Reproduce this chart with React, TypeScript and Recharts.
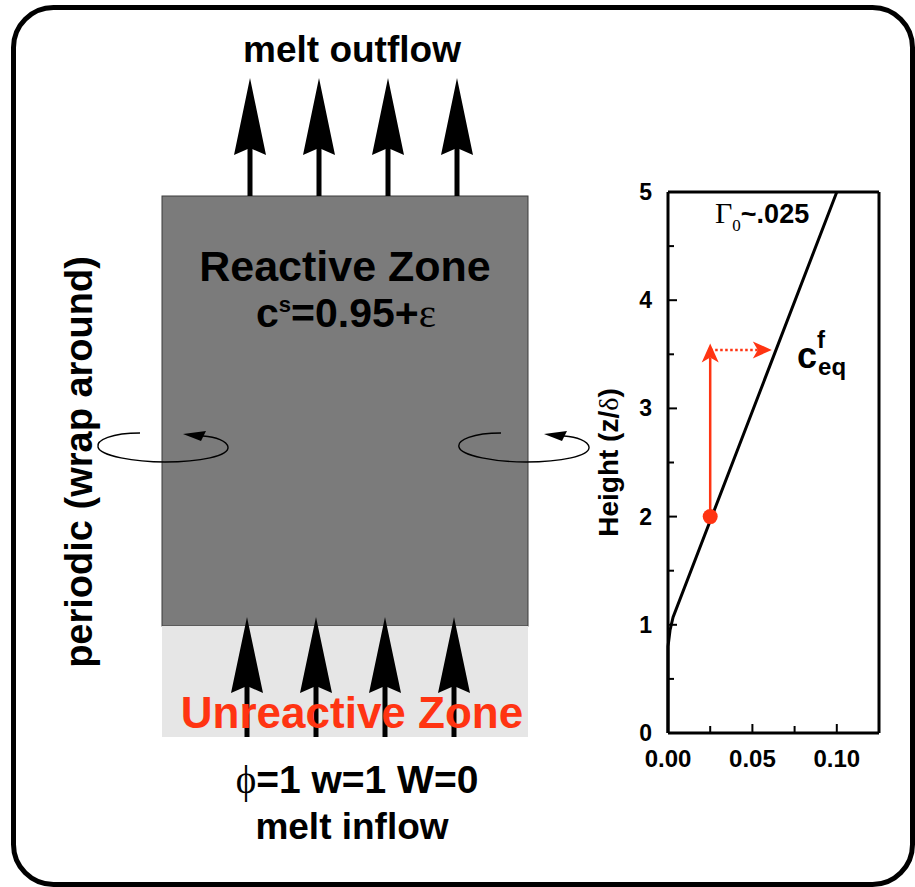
import React from 'react';
import { ComposedChart, Line, Scatter, XAxis, YAxis, ReferenceLine } from 'recharts';

// equilibrium fluid concentration vs height
const concTicks = [0, 0.025, 0.05, 0.075, 0.1];
const concLabels = ['0.00', '', '0.05', '', '0.10'];
const heightTicks = [0, 0.5, 1, 1.5, 2, 2.5, 3, 3.5, 4, 4.5, 5];
const heightLabels = ['0', '', '1', '', '2', '', '3', '', '4', '', '5'];

const ceqProfile = [
  { c: 0, z: 0 },
  { c: 0, z: 0.8 },
  { c: 0.0012, z: 0.95 },
  { c: 0.003, z: 1.07 },
  { c: 0.1, z: 5 },
];
const startPoint = [{ c: 0.025, z: 2 }];
const riseArrow = [{ c: 0.025, z: 2 }, { c: 0.025, z: 3.6 }];
const reactArrow = [{ c: 0.025, z: 3.54 }, { c: 0.0615, z: 3.54 }];

const outflowArrows = [250, 319, 388, 457];
const inflowArrows = [247, 316, 385, 454];

const FONT = "'Liberation Sans', Arial, Helvetica, sans-serif";
const SERIF = "'Liberation Serif', 'Times New Roman', serif";
const RED = '#ff3412';

const BottomTick = (props: any) => {
  const { x, y, index } = props;
  const label = concLabels[index];
  return (
    <g>
      <line x1={x} y1={y} x2={x} y2={y - (label ? 9 : 7)} stroke="#000" strokeWidth={2} />
      {label ? (
        <text x={x} y={y + 34} textAnchor="middle" fontSize={24} fontWeight="bold" fontFamily={FONT} fill="#000">
          {label}
        </text>
      ) : null}
    </g>
  );
};

const TopTick = (props: any) => {
  const { x, y, index } = props;
  return <line x1={x} y1={y} x2={x} y2={y + (concLabels[index] ? 9 : 7)} stroke="#000" strokeWidth={2} />;
};

const LeftTick = (props: any) => {
  const { x, y, index } = props;
  const label = heightLabels[index];
  return (
    <g>
      <line x1={x} y1={y} x2={x + (label ? 9 : 6)} y2={y} stroke="#000" strokeWidth={2} />
      {label ? (
        <text x={x - 16} y={y + 8} textAnchor="end" fontSize={23} fontWeight="bold" fontFamily={FONT} fill="#000">
          {label}
        </text>
      ) : null}
    </g>
  );
};

const RightTick = (props: any) => {
  const { x, y, index } = props;
  return <line x1={x} y1={y} x2={x - (heightLabels[index] ? 9 : 6)} y2={y} stroke="#000" strokeWidth={2} />;
};

const arrowShape = (dashed: boolean) => (props: any) => {
  const { x1, y1, x2, y2 } = props;
  const dx = x2 - x1;
  const dy = y2 - y1;
  const len = Math.hypot(dx, dy) || 1;
  const ux = dx / len;
  const uy = dy / len;
  const nx = -uy;
  const ny = ux;
  const headLen = 19;
  const half = 8.5;
  const notch = 5;
  const bx = x2 - ux * headLen;
  const by = y2 - uy * headLen;
  const mx = x2 - ux * (headLen - notch);
  const my = y2 - uy * (headLen - notch);
  const pts = `${x2},${y2} ${bx + nx * half},${by + ny * half} ${mx},${my} ${bx - nx * half},${by - ny * half}`;
  return (
    <g>
      <line x1={x1} y1={y1} x2={mx} y2={my} stroke={RED} strokeWidth={2.5} strokeDasharray={dashed ? '2.5 2.5' : undefined} />
      <polygon points={pts} fill={RED} />
    </g>
  );
};

const UpArrow = ({ x, tip, base, end }: { x: number; tip: number; base: number; end: number }) => (
  <g>
    <rect x={x - 2.5} y={base - 8} width={5} height={end - base + 8} fill="#000" />
    <polygon points={`${x},${tip} ${x + 16},${base} ${x},${base - 7} ${x - 16},${base}`} fill="#000" />
  </g>
);

const WrapArrow = ({ dx }: { dx: number }) => (
  <g transform={`translate(${dx},0)`}>
    <path
      d="M140,433 C112,433 96,440 98,447 C100,456 135,462 165,462 C200,462 229,456 228,447 C227,441 216,437 203,436"
      fill="none"
      stroke="#000"
      strokeWidth={1.4}
    />
    <polygon points="183,434 206,431 201,441" fill="#000" />
  </g>
);

const Diagram = () => (
  <svg width={915} height={887} style={{ position: 'absolute', left: 0, top: 0 }}>
    <rect x={13.5} y={7.5} width={899} height={877} rx={40} ry={40} fill="#fff" stroke="#000" strokeWidth={5} />
    <rect x={162} y={196} width={366} height={430} fill="#7b7b7b" stroke="#3c3c3c" strokeWidth={1} />
    <rect x={162} y={626} width={366} height={111} fill="#e6e6e6" />
    {outflowArrows.map((x) => (
      <UpArrow key={'o' + x} x={x} tip={78} base={155} end={196} />
    ))}
    {inflowArrows.map((x) => (
      <UpArrow key={'i' + x} x={x} tip={617} base={693} end={737} />
    ))}
    <text x={352} y={62} textAnchor="middle" fontSize={37} fontWeight="bold" fontFamily={FONT}>
      melt outflow
    </text>
    <text x={345} y={281} textAnchor="middle" fontSize={43} fontWeight="bold" fontFamily={FONT}>
      Reactive Zone
    </text>
    <text x={346} y={327} textAnchor="middle" fontSize={41} fontWeight="bold" fontFamily={FONT}>
      c<tspan fontSize={22} dy={-15}>s</tspan>
      <tspan dy={15}>=0.95+</tspan>
      <tspan fontFamily={SERIF} fontWeight="normal">ε</tspan>
    </text>
    <text x={352} y={728} textAnchor="middle" fontSize={44} fontWeight="bold" fontFamily={FONT} fill={RED}>
      Unreactive Zone
    </text>
    <text x={357} y={793} textAnchor="middle" fontSize={39} fontWeight="bold" fontFamily={FONT}>
      <tspan fontFamily={SERIF} fontWeight="normal">ϕ</tspan>=1 w=1 W=0
    </text>
    <text x={352} y={839} textAnchor="middle" fontSize={37} fontWeight="bold" fontFamily={FONT}>
      melt inflow
    </text>
    <text transform="translate(92,462) rotate(-90)" textAnchor="middle" fontSize={38} fontWeight="bold" fontFamily={FONT}>
      periodic (wrap around)
    </text>
    <WrapArrow dx={0} />
    <WrapArrow dx={361} />
  </svg>
);

export default function App() {
  return (
    <div style={{ position: 'relative', width: 915, height: 887, overflow: 'hidden' }}>
      <style>{'body{margin:0;}'}</style>
      <Diagram />
      <div style={{ position: 'absolute', left: 0, top: 0 }}>
        <ComposedChart width={915} height={887} margin={{ top: 190, right: 30, bottom: 114, left: 628 }}>
          <XAxis
            xAxisId="c"
            type="number"
            dataKey="c"
            domain={[0, 0.125]}
            ticks={concTicks}
            interval={0}
            height={40}
            tickSize={0}
            tickMargin={0}
            tick={<BottomTick />}
            axisLine={{ stroke: '#000', strokeWidth: 3 }}
          />
          <XAxis
            xAxisId="ctop"
            orientation="top"
            type="number"
            dataKey="c"
            domain={[0, 0.125]}
            ticks={concTicks}
            interval={0}
            height={2}
            tickSize={0}
            tickMargin={0}
            tick={<TopTick />}
            axisLine={{ stroke: '#000', strokeWidth: 3 }}
          />
          <YAxis
            yAxisId="z"
            type="number"
            dataKey="z"
            domain={[0, 5]}
            ticks={heightTicks}
            interval={0}
            width={40}
            tickSize={0}
            tickMargin={0}
            tick={<LeftTick />}
            axisLine={{ stroke: '#000', strokeWidth: 3 }}
            label={{
              content: ({ viewBox }: any) => (
                <text
                  transform={`translate(${viewBox.x - 10},${viewBox.y + viewBox.height / 2}) rotate(-90)`}
                  textAnchor="middle"
                  fontSize={28}
                  fontWeight="bold"
                  fontFamily={FONT}
                  fill="#000"
                >
                  Height (z/<tspan fontFamily={SERIF} fontWeight="normal">δ</tspan>)
                </text>
              ),
            }}
          />
          <YAxis
            yAxisId="zr"
            orientation="right"
            type="number"
            dataKey="z"
            domain={[0, 5]}
            ticks={heightTicks}
            interval={0}
            width={6}
            tickSize={0}
            tickMargin={0}
            tick={<RightTick />}
            axisLine={{ stroke: '#000', strokeWidth: 3 }}
          />
          <Line
            xAxisId="c"
            yAxisId="z"
            data={ceqProfile}
            dataKey="z"
            type="linear"
            stroke="#000"
            strokeWidth={3}
            dot={false}
            activeDot={false}
            isAnimationActive={false}
          />
          <ReferenceLine
            xAxisId="c"
            yAxisId="z"
            segment={riseArrow.map((p) => ({ x: p.c, y: p.z }))}
            shape={arrowShape(false)}
          />
          <ReferenceLine
            xAxisId="c"
            yAxisId="z"
            segment={reactArrow.map((p) => ({ x: p.c, y: p.z }))}
            shape={arrowShape(true)}
          />
          <Scatter
            xAxisId="c"
            yAxisId="z"
            data={startPoint}
            dataKey="z"
            isAnimationActive={false}
            shape={(p: any) => <circle cx={p.cx} cy={p.cy} r={7.5} fill={RED} />}
          />
        </ComposedChart>
      </div>
      <svg width={915} height={887} style={{ position: 'absolute', left: 0, top: 0, pointerEvents: 'none' }}>
        <text x={715} y={223} fontSize={30} fontFamily={SERIF} fill="#000">
          Γ<tspan fontSize={17} dy={8}>0</tspan>
          <tspan dy={-8} fontSize={27} fontWeight="bold" fontFamily={FONT}>~.025</tspan>
        </text>
        <text x={797} y={368} fontSize={36} fontWeight="bold" fontFamily={FONT} fill="#000">
          c<tspan fontSize={24} dy={-20}>f</tspan>
          <tspan fontSize={24} dx={-7} dy={27}>eq</tspan>
        </text>
      </svg>
    </div>
  );
}
